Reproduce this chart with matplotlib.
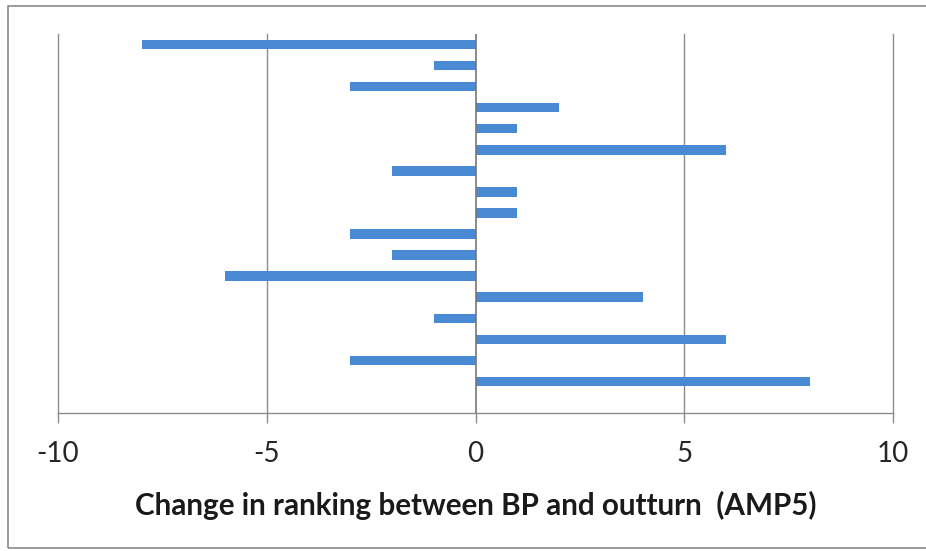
import numpy as np
import matplotlib
matplotlib.use("Agg")
import matplotlib.pyplot as plt
from matplotlib.patches import Rectangle

# Change in ranking per company (top to bottom); last slot is empty
companies = [str(i) for i in range(1, 19)]
rank_change = [-8, -1, -3, 2, 1, 6, -2, 1, 1, -3, -2, -6, 4, -1, 6, -3, 8, 0]
xticks = [-10, -5, 0, 5, 10]

plt.rcParams["font.family"] = ["Lato", "DejaVu Sans"]

fig = plt.figure(figsize=(9.26, 5.51), dpi=100)
ax = fig.add_axes([58 / 926, 1 - 413 / 551, (893 - 58) / 926, 379 / 551])

y = np.arange(len(companies))
ax.barh(y, rank_change, height=0.45, color="#4A89D4", zorder=3)

ax.set_xlim(-10, 10)
ax.set_ylim(len(companies) - 0.5, -0.5)
ax.set_yticks([])
ax.set_xticks(xticks)
ax.set_xticklabels([str(t) for t in xticks], fontsize=20, color="#262626")
ax.tick_params(axis="x", direction="out", length=7.5, width=1, color="#8c8c8c", pad=13)

for t in xticks:
    if t != 0:
        ax.axvline(t, color="#8c8c8c", lw=1, zorder=1, clip_on=False)
ax.axvline(0, ymin=0, ymax=1, color="#777777", lw=1.2, zorder=4)

for s in ["top", "right", "left"]:
    ax.spines[s].set_visible(False)
ax.spines["bottom"].set_color("#8c8c8c")
ax.spines["bottom"].set_linewidth(1)

fig.text(476 / 926, 1 - 505 / 551, "Change in ranking between BP and outturn  (AMP5)",
         ha="center", va="center", fontsize=21.3, fontweight="bold", color="#1a1a1a")

# chart border
fig.patches.append(Rectangle((8 / 926, 1 - 548 / 551), 1.0, (548 - 6) / 551,
                             transform=fig.transFigure, fill=False,
                             edgecolor="#8a8a8a", lw=1.2))

fig.savefig("out.png", dpi=100)
